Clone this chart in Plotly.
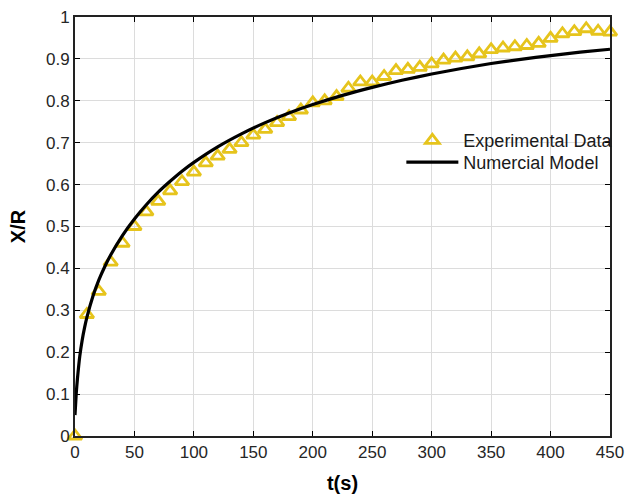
import plotly.graph_objects as go

# Experimental data (t in s, X/R)
exp_t = [0, 10, 20, 30, 40, 50, 60, 70, 80, 90, 100, 110, 120, 130, 140, 150,
         160, 170, 180, 190, 200, 210, 220, 230, 240, 250, 260, 270, 280, 290,
         300, 310, 320, 330, 340, 350, 360, 370, 380, 390, 400, 410, 420, 430,
         440, 450]
exp_y = [0.0, 0.29, 0.345, 0.415, 0.46, 0.50, 0.535, 0.56, 0.585, 0.607, 0.63,
         0.652, 0.668, 0.684, 0.70, 0.718, 0.732, 0.748, 0.762, 0.778, 0.795,
         0.80, 0.81, 0.83, 0.845, 0.845, 0.858, 0.872, 0.875, 0.88, 0.888,
         0.897, 0.902, 0.905, 0.912, 0.922, 0.926, 0.929, 0.932, 0.937, 0.949,
         0.96, 0.965, 0.972, 0.966, 0.964]

# Numerical model
mod_t = [0, 1, 2, 4, 6, 8, 10, 15, 20, 25, 30, 40, 50, 60, 70, 80, 90, 100,
         120, 140, 160, 180, 200, 225, 250, 275, 300, 325, 350, 375, 400, 425, 450]
mod_y = [0.05, 0.10, 0.135, 0.19, 0.228, 0.258, 0.283, 0.333, 0.372, 0.404,
         0.432, 0.479, 0.518, 0.552, 0.582, 0.608, 0.632, 0.653, 0.69, 0.721,
         0.748, 0.771, 0.791, 0.813, 0.832, 0.849, 0.864, 0.877, 0.889, 0.899,
         0.908, 0.916, 0.923]

x_ticks = [0, 50, 100, 150, 200, 250, 300, 350, 400, 450]
y_ticks = [0, 0.1, 0.2, 0.3, 0.4, 0.5, 0.6, 0.7, 0.8, 0.9, 1]
y_tick_labels = ["0", "0.1", "0.2", "0.3", "0.4", "0.5", "0.6", "0.7", "0.8", "0.9", "1"]

YELLOW = "#E6C41C"
font = "Liberation Sans, Arial, sans-serif"

fig = go.Figure()
fig.add_trace(go.Scatter(
    x=exp_t, y=exp_y, mode="markers", name="Experimental Data",
    marker=dict(symbol="triangle-up-open", size=12, color=YELLOW,
                line=dict(width=2.8, color=YELLOW)),
    cliponaxis=False, legend="legend",
))
fig.add_trace(go.Scatter(
    x=mod_t, y=mod_y, mode="lines", name="Numercial Model",
    line=dict(color="black", width=3.2, shape="spline", smoothing=0.6),
    legend="legend2",
))

# white backdrop behind the legend (hides grid lines like the original)
fig.add_shape(type="rect", xref="paper", yref="paper",
              x0=0.588, x1=0.997, y0=0.617, y1=0.722,
              fillcolor="white", line=dict(width=0), layer="between")

leg_common = dict(xanchor="left", yanchor="top", bgcolor="rgba(0,0,0,0)",
                  borderwidth=0, itemwidth=52,
                  font=dict(size=18, family=font, color="#1a1a1a"))

fig.update_layout(
    width=632, height=499,
    margin=dict(l=75, r=18, t=8, b=63),
    paper_bgcolor="white", plot_bgcolor="white",
    font=dict(family=font, color="#262626", size=17),
    showlegend=True,
    legend=dict(x=0.61, y=0.749, **leg_common),
    legend2=dict(x=0.61, y=0.697, **leg_common),
    xaxis=dict(
        range=[0, 450], tickvals=x_ticks, ticks="inside", ticklen=5,
        tickcolor="black", showline=True, linecolor="#222", linewidth=1.8,
        mirror="ticks", showgrid=True, gridcolor="#dcdcdc", gridwidth=1,
        zeroline=False, tickfont=dict(size=17),
        title=dict(text="<b>t(s)</b>", font=dict(size=20, color="black"), standoff=15),
    ),
    yaxis=dict(
        range=[0, 1], tickvals=y_ticks, ticktext=y_tick_labels, ticks="inside",
        ticklen=5, tickcolor="black", showline=True, linecolor="#222",
        linewidth=1.8, mirror="ticks", showgrid=True, gridcolor="#dcdcdc",
        gridwidth=1, zeroline=False, tickfont=dict(size=17),
        title=dict(text="<b>X/R</b>", font=dict(size=20, color="black"), standoff=15),
    ),
)

fig.write_html("out.html",
               config={"displayModeBar": False},
               post_script="document.body.style.margin='0';document.body.style.padding='0';")
